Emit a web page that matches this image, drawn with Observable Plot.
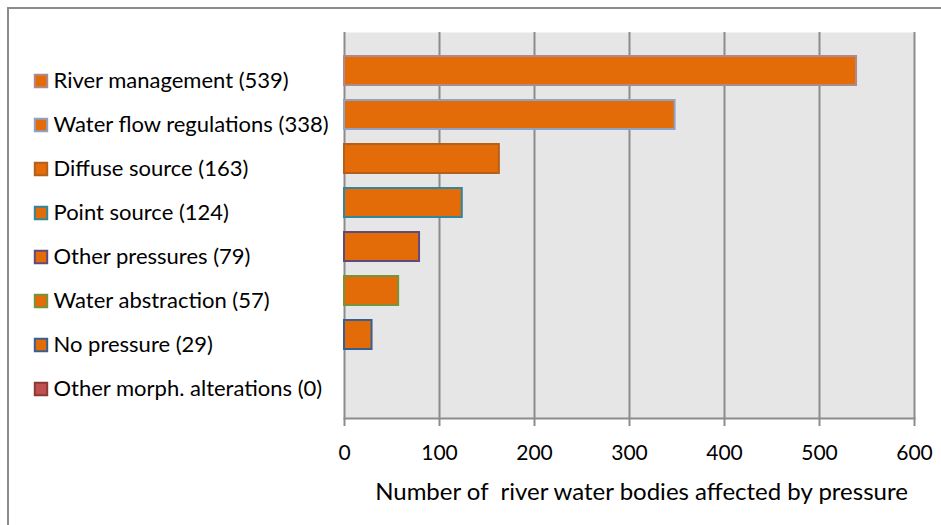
<!DOCTYPE html>
<html>
<head>
<meta charset="utf-8">
<script src="https://cdn.jsdelivr.net/npm/d3@7"></script>
<script src="https://cdn.jsdelivr.net/npm/@observablehq/plot@0.6"></script>
<style>
  html, body { margin: 0; padding: 0; background: #fff; overflow: hidden; }
  #wrap { position: relative; width: 941px; height: 525px; }
  #border { position: absolute; left: 7px; top: 7px; width: 1000px; height: 600px;
            border-left: 2px solid #8c8c8c; border-top: 2px solid #8c8c8c; }
  #chart { position: absolute; left: 0; top: 0; }
</style>
</head>
<body>
<div id="wrap"><div id="border"></div><div id="chart"></div></div>
<script>
const categories = [
  "River management", "Water flow regulations", "Diffuse source", "Point source",
  "Other pressures", "Water abstraction", "No pressure", "Other morph. alterations"
];
const values = [539, 348, 163, 124, 79, 57, 29, 0];
const labelCounts = [539, 338, 163, 124, 79, 57, 29, 0];
const strokeColors = ["#b08a8a", "#8fa2c4", "#b45f1c", "#31859c", "#604a7b", "#77933c", "#376092", "#8c3836"];
const squareFills = ["#e36c09", "#e36c09", "#e36c09", "#e36c09", "#e36c09", "#e36c09", "#e36c09", "#c0504d"];
const xTicks = [0, 100, 200, 300, 400, 500, 600];
const xTitle = "Number of  river water bodies affected by pressure";

const data = categories.map((c, i) => ({
  cat: c, value: values[i], label: `${c} (${labelCounts[i]})`,
  stroke: strokeColors[i], sq: squareFills[i]
}));

const FONT = "Lato, 'Open Sans', sans-serif";
const chart = Plot.plot({
  width: 941,
  height: 525,
  marginLeft: 344,
  marginRight: 27,
  marginTop: 32,
  marginBottom: 107,
  style: { fontFamily: FONT, fontSize: "20px", color: "#000", background: "transparent" },
  x: { domain: [0, 600], ticks: xTicks },
  y: { domain: categories, paddingInner: 0.33, paddingOuter: 0.5, axis: null },
  marks: [
    Plot.frame({ fill: "#e6e6e6", stroke: null }),
    Plot.gridX(xTicks, { stroke: "#8c8c8c", strokeOpacity: 1, strokeWidth: 2 }),
    Plot.barX(data, { y: "cat", x: "value", fill: "#e36c09", stroke: "stroke", strokeWidth: 2 }),
    Plot.frame({ anchor: "bottom", stroke: "#8c8c8c", strokeWidth: 2 }),
    Plot.axisX(xTicks, { tickSize: 8, tickPadding: 19, stroke: "#8c8c8c", strokeWidth: 2,
      fontSize: 21, fill: "#000", label: null, tickFormat: d => String(d) }),
    Plot.dot(data, { y: "cat", frameAnchor: "left", dx: -303.5, dy: 10, symbol: "square",
      r: 7, fill: "sq", stroke: "stroke", strokeWidth: 2 }),
    Plot.text(data, { y: "cat", text: "label", frameAnchor: "left", dx: -291, dy: 10,
      textAnchor: "start", fontSize: 22, fill: "#000" }),
    Plot.text([xTitle], { frameAnchor: "bottom", dx: 12, dy: 81, fontSize: 24, fill: "#000" })
  ]
});
document.getElementById("chart").appendChild(chart);
</script>
</body>
</html>
